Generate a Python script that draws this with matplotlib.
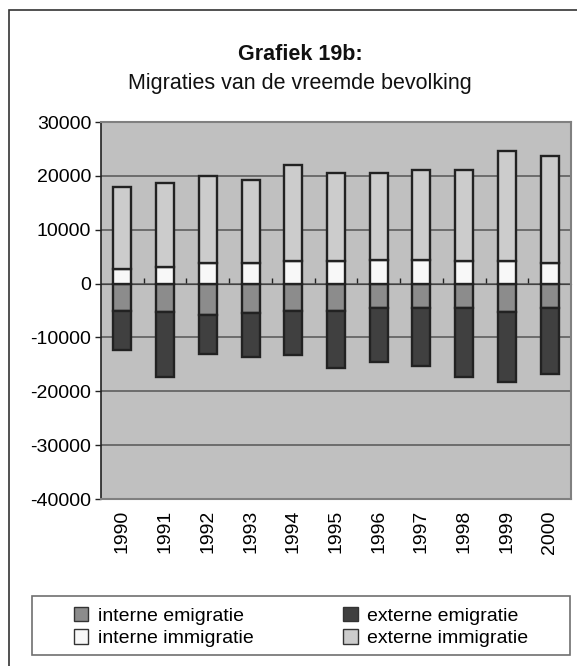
import numpy as np
import matplotlib
matplotlib.use('Agg')
from matplotlib import pyplot as plt
from matplotlib.patches import Rectangle

plt.rcParams['font.family'] = ['Liberation Sans', 'DejaVu Sans']

##

years = ['1990', '1991', '1992', '1993', '1994', '1995',
         '1996', '1997', '1998', '1999', '2000']
interne_emigratie = [-5000, -5300, -5900, -5550, -5000, -5000,
                     -4600, -4600, -4600, -5300, -4600]
externe_emigratie = [-7300, -12050, -7100, -8050, -8300, -10600,
                     -10000, -10650, -12700, -13000, -12100]
interne_immigratie = [2700, 3100, 3750, 3750, 4100, 4100,
                      4400, 4400, 4100, 4100, 3750]
externe_immigratie = [15200, 15600, 16250, 15500, 17900, 16500,
                      16200, 16600, 16900, 20600, 20000]
yticks = [30000, 20000, 10000, 0, -10000, -20000, -30000, -40000]

##

W, H = 577, 666
fig = plt.figure(figsize=(W/100, H/100), dpi=100)

# outer frame of the chart object
fig.patches.append(Rectangle((8.5/W, -0.1), 1.2, 1.1 - 10.5/H, transform=fig.transFigure,
                             fill=False, edgecolor='#333333', lw=1.2))

ax = fig.add_axes([101/W, 1 - 499/H, (571-101)/W, (499-122)/H])
ax.set_facecolor('#c0c0c0')

x = np.arange(len(years))
bw = 0.42
kw = dict(width=bw, edgecolor='#222222', linewidth=1.7, zorder=3)
b1 = ax.bar(x, interne_emigratie, color='#8c8c8c', **kw)
b2 = ax.bar(x, externe_emigratie, bottom=interne_emigratie, color='#404040', **kw)
b3 = ax.bar(x, interne_immigratie, color='#f8f8f8', **kw)
b4 = ax.bar(x, externe_immigratie, bottom=interne_immigratie, color='#cccccc', **kw)

ax.set_xlim(-0.5, len(years) - 0.5)
ax.set_ylim(-40000, 30000)
ax.set_yticks(yticks)
ax.set_yticklabels([str(v) for v in yticks], fontsize=14)
ax.tick_params(axis='y', direction='out', length=4, width=1, color='#222222', pad=3)
ax.yaxis.grid(True, color='#555555', lw=1.1, zorder=1)
ax.set_axisbelow(True)

ax.set_xticks(x)
ax.set_xticklabels(years, rotation=90, fontsize=14)
ax.tick_params(axis='x', length=0, pad=8)

for s in ['top', 'right', 'bottom']:
    ax.spines[s].set_color('#808080')
    ax.spines[s].set_linewidth(1.5)
ax.spines['left'].set_color('#222222')
ax.spines['left'].set_linewidth(1.2)

# category axis through zero
sec = ax.secondary_xaxis(40000/70000)
sec.set_xticks(np.arange(len(years) - 1) + 0.5)
sec.set_xticklabels([])
sec.tick_params(direction='out', length=4, width=1, color='#222222')
sec.spines['bottom'].set_color('#222222')
sec.spines['bottom'].set_linewidth(1.2)

fig.text(300/W, 1 - 55/H, 'Grafiek 19b:', ha='center', va='center',
         fontsize=15.5, fontweight='bold', color='#111111')
fig.text(300/W, 1 - 83/H, 'Migraties van de vreemde bevolking',
         ha='center', va='center', fontsize=15.5, color='#111111')

# legend box
fig.patches.append(Rectangle((32/W, 1 - 655/H), (570-32)/W, (655-596)/H,
                             transform=fig.transFigure, fill=False,
                             edgecolor='#707070', lw=1.2))
leg = fig.legend([b1, b3, b2, b4],
                 ['interne emigratie', 'interne immigratie',
                  'externe emigratie', 'externe immigratie'],
                 ncol=2, loc='upper left', bbox_to_anchor=(60/W, 1 - 593/H),
                 frameon=False, fontsize=14, handlelength=0.75, handleheight=0.75,
                 handletextpad=0.5, columnspacing=4.6, labelspacing=0.25,
                 borderpad=0.2)
for h in leg.legend_handles:
    h.set_linewidth(1.0)
    h.set_edgecolor('#333333')

fig.savefig('out.png', dpi=100)
